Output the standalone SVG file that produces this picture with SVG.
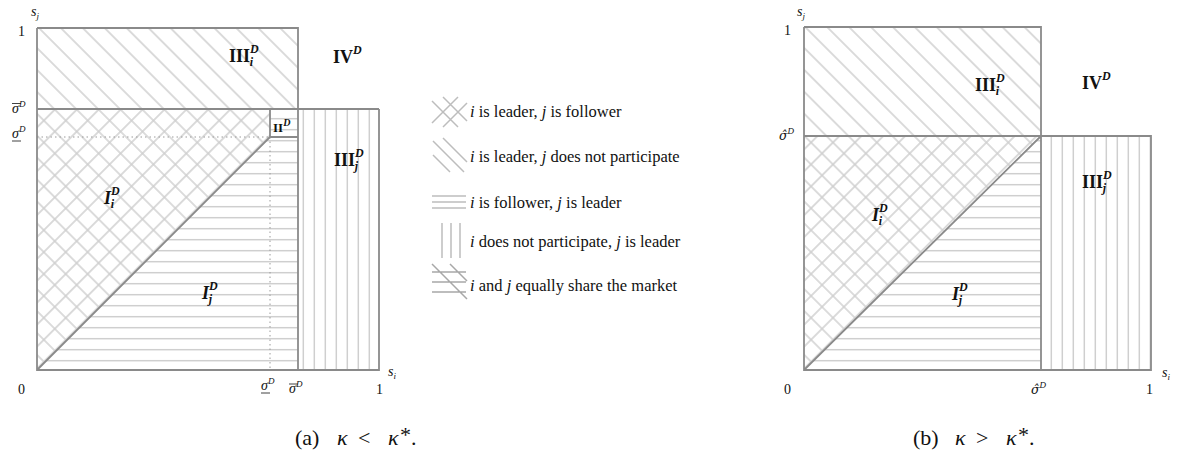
<svg xmlns="http://www.w3.org/2000/svg" width="1179" height="456" viewBox="0 0 1179 456">
<style>
.frame{stroke:#8a8a8a;stroke-width:1.8;fill:none}
.dot{stroke:#9a9a9a;stroke-width:1;stroke-dasharray:1.5 3;fill:none}
.hl{stroke:#bdbdbd;stroke-width:1.5;fill:none}
.t{font-family:"Liberation Serif","Times New Roman",serif;fill:#111}
.ax{font-size:14px}
.sm{font-size:9px;font-style:italic}
.it{font-style:italic}
.hat{font-family:"DejaVu Serif",serif;font-size:12.5px;font-style:italic}
.rg{font-size:18px;font-weight:bold}
.rs{font-size:12px;font-weight:bold;font-style:italic}
.lg{font-size:16.5px}
.cap{font-size:22px}
</style>
<defs>
<pattern id="cross" width="15.5" height="15.5" patternUnits="userSpaceOnUse" patternTransform="rotate(45)"><path d="M0 7.75H15.5M7.75 0V15.5" stroke="#cfcfcf" stroke-width="1.5"/></pattern>
<pattern id="diag" width="15.5" height="15.5" patternUnits="userSpaceOnUse" patternTransform="rotate(45)"><path d="M0 7.75H15.5" stroke="#cfcfcf" stroke-width="1.5"/></pattern>
<pattern id="horz" width="11" height="11" patternUnits="userSpaceOnUse" y="3"><path d="M0 5.7H11" stroke="#cfcfcf" stroke-width="1.5"/></pattern>
<pattern id="vert" width="11" height="11" patternUnits="userSpaceOnUse" x="1"><path d="M5.3 0V11" stroke="#cfcfcf" stroke-width="1.5"/></pattern>
</defs>

<!-- Left diagram (a) -->
<g id="diagram-a">
<g id="a-regions">
<rect id="a-IIIi" x="37" y="28" width="261" height="81" fill="url(#diag)"/>
<polygon id="a-Ii" points="37,370 270,137 270,109 37,109" fill="url(#cross)"/>
<polygon id="a-Ij" points="37,370 270,137 298,137 298,370" fill="url(#horz)"/>
<rect id="a-II" x="270" y="109" width="28" height="28" fill="url(#horz)"/>
<rect id="a-IIIj" x="298" y="109" width="81" height="261" fill="url(#vert)"/>
</g>
<g id="a-lines">
<path class="dot" d="M37 137H270M270 137V370"/>
<path class="frame" d="M37 28V370H379V109M37 28H298V370M37 109H379M270 109V137H298M37 370L270 137"/>
</g>
<g id="a-labels" class="t">
<text class="ax it" x="31" y="16">s<tspan class="sm" dy="3">j</tspan></text>
<text class="ax" x="18" y="36">1</text>
<text class="ax it" x="12" y="113">σ<tspan class="sm" dy="-6">D</tspan></text>
<line x1="12" y1="103.5" x2="21" y2="103.5" stroke="#111" stroke-width="0.8"/>
<text class="ax it" x="12" y="138">σ<tspan class="sm" dy="-6">D</tspan></text>
<line x1="12" y1="141" x2="21" y2="141" stroke="#111" stroke-width="0.8"/>
<text class="ax" x="18" y="394">0</text>
<text class="ax it" x="261" y="390">σ<tspan class="sm" dy="-6">D</tspan></text>
<line x1="261" y1="393" x2="270" y2="393" stroke="#111" stroke-width="0.8"/>
<text class="ax it" x="289" y="393">σ<tspan class="sm" dy="-6">D</tspan></text>
<line x1="289" y1="384" x2="298" y2="384" stroke="#111" stroke-width="0.8"/>
<text class="ax" x="376" y="394">1</text>
<text class="ax it" x="388" y="376">s<tspan class="sm" dy="3">i</tspan></text>
<text class="rg" x="229" y="62">III<tspan class="rs" dy="-9">D</tspan><tspan class="rs" dx="-9" dy="13">i</tspan></text>
<text class="rg" x="333" y="63">IV<tspan class="rs" dy="-9">D</tspan></text>
<text x="273" y="132" style="font-size:13px;font-weight:bold">II<tspan style="font-size:10px;font-style:italic;font-weight:bold" dy="-6">D</tspan></text>
<text class="rg" x="334" y="166">III<tspan class="rs" dy="-9">D</tspan><tspan class="rs" dx="-9" dy="13">j</tspan></text>
<text class="rg it" x="104" y="204">I<tspan class="rs" dy="-9">D</tspan><tspan class="rs" dx="-9" dy="13">i</tspan></text>
<text class="rg it" x="202" y="299">I<tspan class="rs" dy="-9">D</tspan><tspan class="rs" dx="-9" dy="13">j</tspan></text>
</g>
</g>

<!-- Legend -->
<g id="legend">
<g id="leg-1">
<path class="hl" d="M432 101L458 127M443 97L467 121M432 123L458 97M443 127L467 103"/>
<text class="t lg" x="470" y="117"><tspan class="it">i</tspan> is leader, <tspan class="it">j</tspan> is follower</text>
</g>
<g id="leg-2">
<path class="hl" d="M443 138L467 162M433 141L464 172M433 155L450 172"/>
<text class="t lg" x="470" y="162"><tspan class="it">i</tspan> is leader, <tspan class="it">j</tspan> does not participate</text>
</g>
<g id="leg-3">
<path class="hl" d="M432 196H466M432 202H466M432 208H466"/>
<text class="t lg" x="470" y="208"><tspan class="it">i</tspan> is follower, <tspan class="it">j</tspan> is leader</text>
</g>
<g id="leg-4">
<path class="hl" d="M442 223V258M451 223V258M460 223V258"/>
<text class="t lg" x="470" y="247"><tspan class="it">i</tspan> does not participate, <tspan class="it">j</tspan> is leader</text>
</g>
<g id="leg-5">
<path class="hl" d="M432 272H466M432 282H466M432 292H466M432 264L467 299M450 264L467 281" style="stroke:#a8a8a8"/>
<text class="t lg" x="470" y="291"><tspan class="it">i</tspan> and <tspan class="it">j</tspan> equally share the market</text>
</g>
</g>

<!-- Right diagram (b) -->
<g id="diagram-b">
<g id="b-regions">
<rect id="b-IIIi" x="804" y="27" width="237" height="109" fill="url(#diag)"/>
<polygon id="b-Ii" points="804,370 1041,136 804,136" fill="url(#cross)"/>
<polygon id="b-Ij" points="804,370 1041,136 1041,370" fill="url(#horz)"/>
<rect id="b-IIIj" x="1041" y="136" width="110" height="234" fill="url(#vert)"/>
</g>
<g id="b-lines">
<path class="frame" d="M804 27V370H1151V136H804M804 27H1041V370M804 370L1041 136"/>
</g>
<g id="b-labels" class="t">
<text class="ax it" x="797" y="16">s<tspan class="sm" dy="3">j</tspan></text>
<text class="ax" x="784" y="35">1</text>
<text class="ax" x="779" y="140"><tspan class="hat">σ̂</tspan><tspan class="sm" dy="-6">D</tspan></text>
<text class="ax" x="784" y="394">0</text>
<text class="ax" x="1031" y="394"><tspan class="hat">σ̂</tspan><tspan class="sm" dy="-6">D</tspan></text>
<text class="ax" x="1146" y="394">1</text>
<text class="ax it" x="1162" y="377">s<tspan class="sm" dy="3">i</tspan></text>
<text class="rg" x="975" y="91">III<tspan class="rs" dy="-9">D</tspan><tspan class="rs" dx="-9" dy="13">i</tspan></text>
<text class="rg" x="1082" y="89">IV<tspan class="rs" dy="-9">D</tspan></text>
<text class="rg" x="1082" y="188">III<tspan class="rs" dy="-9">D</tspan><tspan class="rs" dx="-9" dy="13">j</tspan></text>
<text class="rg it" x="872" y="221">I<tspan class="rs" dy="-9">D</tspan><tspan class="rs" dx="-9" dy="13">i</tspan></text>
<text class="rg it" x="952" y="300">I<tspan class="rs" dy="-9">D</tspan><tspan class="rs" dx="-9" dy="13">j</tspan></text>
</g>
</g>

<g id="captions" class="t cap">
<text x="295" y="445">(a)<tspan x="337" class="it">κ</tspan><tspan x="358">&lt;</tspan><tspan x="388" class="it">κ</tspan><tspan x="400" dy="-3">*</tspan><tspan x="411" dy="3">.</tspan></text>
<text x="913" y="445">(b)<tspan x="955" class="it">κ</tspan><tspan x="976">&gt;</tspan><tspan x="1006" class="it">κ</tspan><tspan x="1018" dy="-3">*</tspan><tspan x="1029" dy="3">.</tspan></text>
</g>
</svg>
